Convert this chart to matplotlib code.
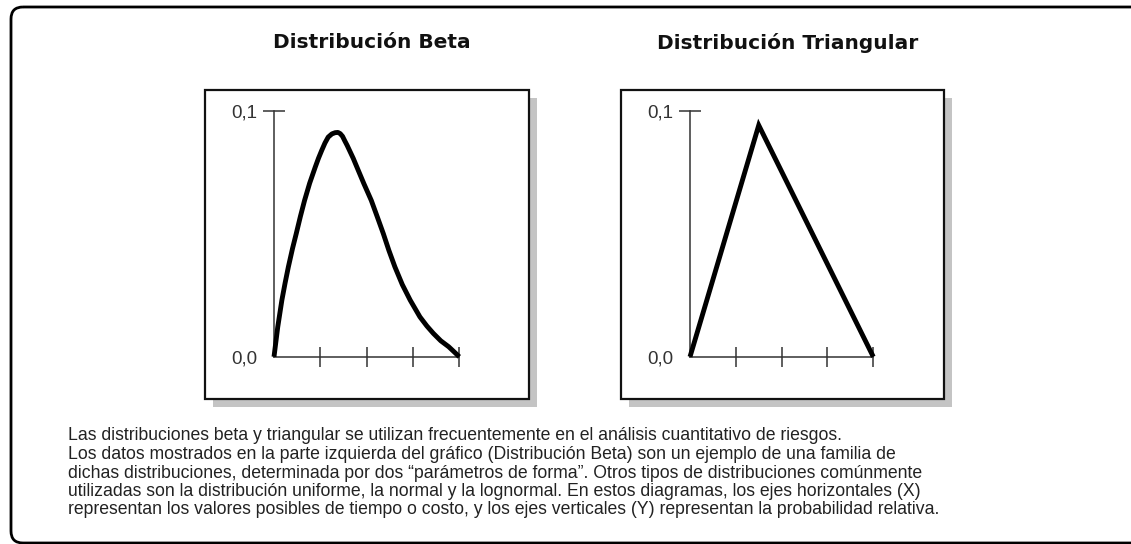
import matplotlib
matplotlib.use("Agg")
import matplotlib.pyplot as plt
from matplotlib.patches import Rectangle, FancyBboxPatch

# --- data ---
beta_x = [0, 0.08, 0.17, 0.24, 0.31, 0.40, 0.48, 0.57, 0.66, 0.77, 0.89, 0.96,
          1.03, 1.10, 1.17, 1.25, 1.32, 1.38, 1.43, 1.48, 1.53, 1.58, 1.63,
          1.71, 1.79, 1.94, 2.10, 2.23, 2.36, 2.48, 2.61, 2.77, 2.94, 3.15,
          3.30, 3.44, 3.60, 3.77, 3.90, 4.0]
beta_y = [0, 0.0120, 0.0230, 0.0300, 0.0365, 0.0440, 0.0500, 0.0570, 0.0635,
          0.0705, 0.0770, 0.0806, 0.0838, 0.0868, 0.0892, 0.0905, 0.0910,
          0.0911, 0.0906, 0.0895, 0.0876, 0.0858, 0.0838, 0.0806, 0.0770,
          0.0703, 0.0635, 0.0568, 0.0500, 0.0432, 0.0365, 0.0293, 0.0230,
          0.0162, 0.0125, 0.0095, 0.0065, 0.0041, 0.0018, 0]
tri_x = [0, 1.5, 4]
tri_y = [0, 0.094, 0]

x_ticks = [1, 2, 3, 4]
y_ticks = [0, 0.1]
y_labels = ["0,0", "0,1"]

titles = ["Distribución Beta", "Distribución Triangular"]
caption = [
    "Las distribuciones beta y triangular se utilizan frecuentemente en el análisis cuantitativo de riesgos.",
    "Los datos mostrados en la parte izquierda del gráfico (Distribución Beta) son un ejemplo de una familia de",
    "dichas distribuciones, determinada por dos “parámetros de forma”. Otros tipos de distribuciones comúnmente",
    "utilizadas son la distribución uniforme, la normal y la lognormal. En estos diagramas, los ejes horizontales (X)",
    "representan los valores posibles de tiempo o costo, y los ejes verticales (Y) representan la probabilidad relativa.",
]

body_font = "Liberation Sans"

W, H = 1131, 544
fig = plt.figure(figsize=(W / 100, H / 100), dpi=100)
fig.patch.set_facecolor("white")

# background layer in pixel coords
bg = fig.add_axes([0, 0, 1, 1], zorder=0)
bg.set_xlim(0, W)
bg.set_ylim(H, 0)
bg.axis("off")

# outer rounded frame
bg.add_patch(FancyBboxPatch((11, 7), 1140, 536, boxstyle="round,pad=0,rounding_size=12",
                            fill=False, ec="black", lw=2.0, clip_on=False))

boxes = [(205, 90, 324, 309), (621, 90, 323, 309)]
for (bx, by, bw, bh), t in zip(boxes, titles):
    bg.add_patch(Rectangle((bx + 8, by + 8), bw, bh, fc="#c4c4c4", ec="none"))
    bg.add_patch(Rectangle((bx, by), bw, bh, fc="white", ec="#111111", lw=1.6))
    bg.text(bx + bw / 2 + 5, 43, t, ha="center", va="center", fontsize=14.5,
            fontweight="bold", family="DejaVu Sans", color="#111111")

for i, line in enumerate(caption):
    bg.text(68, 436 + i * 18.5, line, ha="left", va="center", fontsize=12.7,
            family=body_font, color="#222222")

# plot areas (pixel extents of the data range)
areas = [(274, 459.3), (690, 873.3)]
y_top, y_bot = 110.5, 356.8
series = [(beta_x, beta_y, "round"), (tri_x, tri_y, "miter")]

for (x0, x1), (xs, ys, js) in zip(areas, series):
    ax = fig.add_axes([x0 / W, 1 - y_bot / H, (x1 - x0) / W, (y_bot - y_top) / H], zorder=1)
    ax.patch.set_visible(False)
    ax.set_xlim(0, 4)
    ax.set_ylim(0, 0.1)
    for s in ["top", "right"]:
        ax.spines[s].set_visible(False)
    for s in ["left", "bottom"]:
        ax.spines[s].set_color("#333333")
        ax.spines[s].set_linewidth(1.1)
    ax.set_xticks(x_ticks)
    ax.set_xticklabels([])
    ax.set_yticks(y_ticks)
    ax.set_yticklabels(y_labels, family=body_font, fontsize=13.5, color="#333333")
    ax.tick_params(axis="x", direction="inout", length=14.4, width=1.1, color="#333333")
    ax.tick_params(axis="y", direction="inout", length=16, width=1.1, color="#333333", pad=4)
    ax.yaxis.get_major_ticks()[0].tick1line.set_visible(False)
    ax.plot(xs, ys, color="black", lw=3.5, solid_joinstyle=js, solid_capstyle="butt",
            clip_on=False, zorder=3)

fig.savefig("out.png", dpi=100)
